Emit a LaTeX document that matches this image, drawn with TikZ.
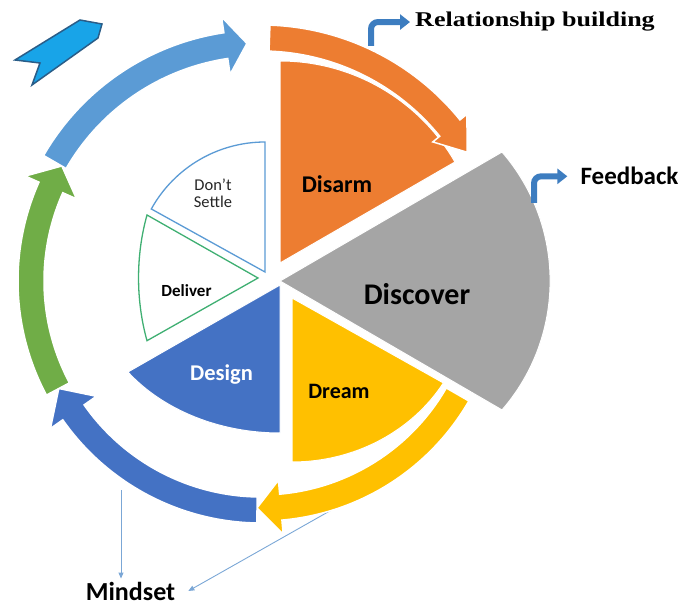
\documentclass[tikz,border=0pt]{standalone}
\usepackage{fontspec}
\setmainfont{Carlito}
\newfontfamily\relfont{Liberation Serif}
\usetikzlibrary{arrows.meta}

\definecolor{disarmorange}{HTML}{ED7D31}
\definecolor{discovergray}{HTML}{A5A5A5}
\definecolor{dreamyellow}{HTML}{FFC000}
\definecolor{designblue}{HTML}{4472C4}
\definecolor{ringblue}{HTML}{5B9BD5}
\definecolor{ringgreen}{HTML}{70AD47}
\definecolor{deliveredge}{HTML}{3FAF72}
\definecolor{tagcyan}{HTML}{18A4E8}
\definecolor{tagedge}{HTML}{2A5D88}
\definecolor{iconblue}{HTML}{3D7DC0}
\definecolor{pointerblue}{HTML}{7BA7D6}

\begin{document}
\begin{tikzpicture}[x=1pt, y=1pt,
    slice/.style={draw=white, line width=1pt},
    outline/.style={fill=white, line width=1.3pt},
    lbl/.style={anchor=base, inner sep=3pt, font=\bfseries},
    icon/.style={draw=iconblue, line width=6pt, rounded corners=7pt,
        -{Triangle[width=15pt, length=10pt]}},
    pointer/.style={draw=pointerblue, line width=0.9pt,
        -{Triangle[width=5pt, length=6pt]}}]
    \useasboundingbox (0,0) rectangle (684,605);

    % pie slices
    \filldraw[slice, fill=disarmorange]
        (280,342) -- ++(0,202) arc[start angle=90, end angle=30, radius=202] -- cycle;
    \filldraw[slice, fill=discovergray]
        (280,324) -- (502,453) arc[start angle=40.9, end angle=-40.9, radius=197] -- cycle;
    \filldraw[slice, fill=dreamyellow]
        (292,307) -- ++(0,-164)
        arc[start angle=-90, end angle=-31.2, x radius=177, y radius=164] -- cycle;
    \filldraw[slice, fill=designblue]
        (280,320) -- ++(0,-148)
        arc[start angle=270, end angle=216, x radius=188, y radius=148] -- cycle;
    \draw[outline, draw=ringblue]
        (265,333) -- ++(0,130) arc[start angle=90, end angle=151, radius=130] -- cycle;
    \draw[outline, draw=deliveredge]
        (258,327) -- (147,390)
        arc[start angle=158.3, end angle=201.7, x radius=119.5, y radius=170] -- cycle;

    % pointers to mindset (under the ring)
    \node[lbl, font=\fontsize{26}{30}\selectfont\bfseries] (mindset) at (130.5,5) {Mindset};
    \coordinate (mindA) at (121,115);
    \coordinate (mindB) at (335,97);
    \draw[pointer] (mindA) -- (mindA |- mindset.north);
    \draw[pointer] (mindB) -- ([xshift=10pt]mindset.east);

    % ring of arrows
    \begin{scope}[shift={(261,324)}]
        \foreach \col/\r/\a/\b/\c/\w in {
            disarmorange/243/88/39/32/22,
            dreamyellow/227/-30/-85/-91/27,
            designblue/229/-91/-145/-152/28,
            ringgreen/230/-152/-204/-210/28,
            ringblue/238/-210/-261.5/-266.6/29}{
            \filldraw[fill=\col, draw=white, line width=1.5pt]
                (\a:{\r-13}) arc[start angle=\a, end angle=\b, radius={\r-13}]
                -- (\b:{\r-\w}) -- (\c:\r) -- (\b:{\r+\w})
                -- (\b:{\r+13}) arc[start angle=\b, end angle=\a, radius={\r+13}]
                -- cycle;
        }
    \end{scope}

    % tag in the corner
    \filldraw[fill=tagcyan, draw=tagedge, line width=1.5pt]
        (15,545) -- (80,585) -- (102,581) -- (98,567) -- (32,520) -- (40,542) -- cycle;

    % labels
    \node[lbl, font=\fontsize{24}{28}\selectfont\bfseries] (disarm) at (337,412) {Disarm};
    \node[lbl, font=\fontsize{30}{34}\selectfont\bfseries] (discover) at (417,300) {Discover};
    \node[lbl, font=\fontsize{22}{26}\selectfont\bfseries] (dream) at (339,207) {Dream};
    \node[lbl, font=\fontsize{22.5}{26}\selectfont\bfseries, text=white] (design) at (221.5,225) {Design};
    \node[lbl, font=\fontsize{17}{20}\selectfont\bfseries] (deliver) at (186.5,308) {Deliver};
    \node[lbl, font=\fontsize{16.5}{17}\selectfont, text=black!85, align=center] (settle) at (213,397) {Don’t\\Settle};
    \node[lbl, font=\relfont\fontsize{21}{24}\selectfont\bfseries] (relation) at (535,578)
        {\scalebox{1.24}[1]{Relationship building}};
    \node[lbl, font=\fontsize{25}{30}\selectfont\bfseries] (feedback) at (629.5,420) {Feedback};

    % bent arrows to the side labels
    \coordinate (relsrc) at (371,559);
    \coordinate (fbsrc) at (534,402);
    \draw[icon] (relsrc) |- ([xshift=-2pt]relation.west);
    \draw[icon] (fbsrc) |- ([xshift=-10pt]feedback.west);
\end{tikzpicture}
\end{document}
